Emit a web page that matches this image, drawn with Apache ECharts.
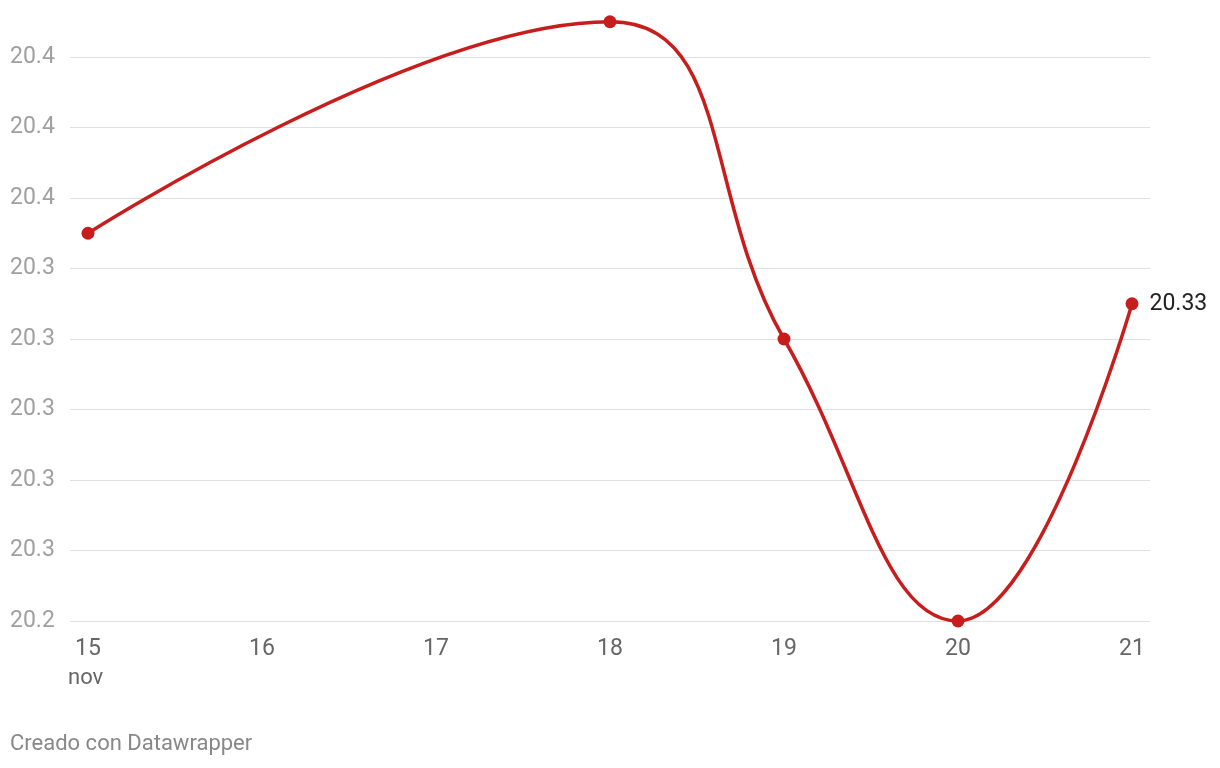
<!DOCTYPE html>
<html>
<head>
<meta charset="utf-8">
<script src="https://cdn.jsdelivr.net/npm/echarts@6/dist/echarts.min.js"></script>
<style>
html,body{margin:0;padding:0;background:#fff;}
#chart{width:1220px;height:768px;}
</style>
</head>
<body>
<div id="chart"></div>
<script>
const days = [15, 18, 19, 20, 21];
const values = [20.35, 20.41, 20.32, 20.24, 20.33];
const xTicks = [15, 16, 17, 18, 19, 20, 21];
const monthLabel = 'nov';
const footer = 'Creado con Datawrapper';

const chart = echarts.init(document.getElementById('chart'));
const pad = 18 / 174;
chart.setOption({
  animation: false,
  backgroundColor: '#ffffff',
  textStyle: { fontFamily: 'Roboto' },
  grid: { left: 70, right: 70, top: 57, bottom: 147 },
  xAxis: {
    type: 'value',
    min: 15 - pad,
    max: 21 + pad,
    axisLine: { show: false },
    axisTick: { show: false },
    splitLine: { show: false },
    axisLabel: {
      customValues: xTicks,
      color: '#666666',
      fontSize: 23,
      fontFamily: 'Roboto',
      margin: 17,
      formatter: v => String(Math.round(v))
    }
  },
  yAxis: {
    type: 'value',
    min: 20.24,
    max: 20.40,
    interval: 0.02,
    axisLine: { show: false },
    axisTick: { show: false },
    splitLine: { lineStyle: { color: '#e0e0e0', width: 1 } },
    axisLabel: {
      color: '#a0a0a0',
      fontSize: 23,
      fontFamily: 'Roboto',
      align: 'left',
      margin: 60,
      formatter: v => v.toFixed(1)
    }
  },
  graphic: [
    { type: 'text', left: 68, top: 667, style: { text: monthLabel, fill: '#666666', font: '22px Roboto' } },
    { type: 'text', left: 10, top: 733, style: { text: footer, fill: '#888888', font: '22px Roboto' } }
  ],
  series: [{
    type: 'line',
    data: days.map((d, i) => [d, values[i]]),
    smooth: 0.45,
    clip: false,
    symbol: 'circle',
    symbolSize: 13,
    lineStyle: { color: '#c71e1d', width: 3.5 },
    itemStyle: { color: '#c71e1d' },
    label: {
      show: true,
      position: 'right',
      distance: 11,
      color: '#222222',
      fontSize: 23,
      fontFamily: 'Roboto',
      formatter: p => p.dataIndex === values.length - 1 ? values[p.dataIndex].toFixed(2) : ''
    }
  }]
});
</script>
</body>
</html>
